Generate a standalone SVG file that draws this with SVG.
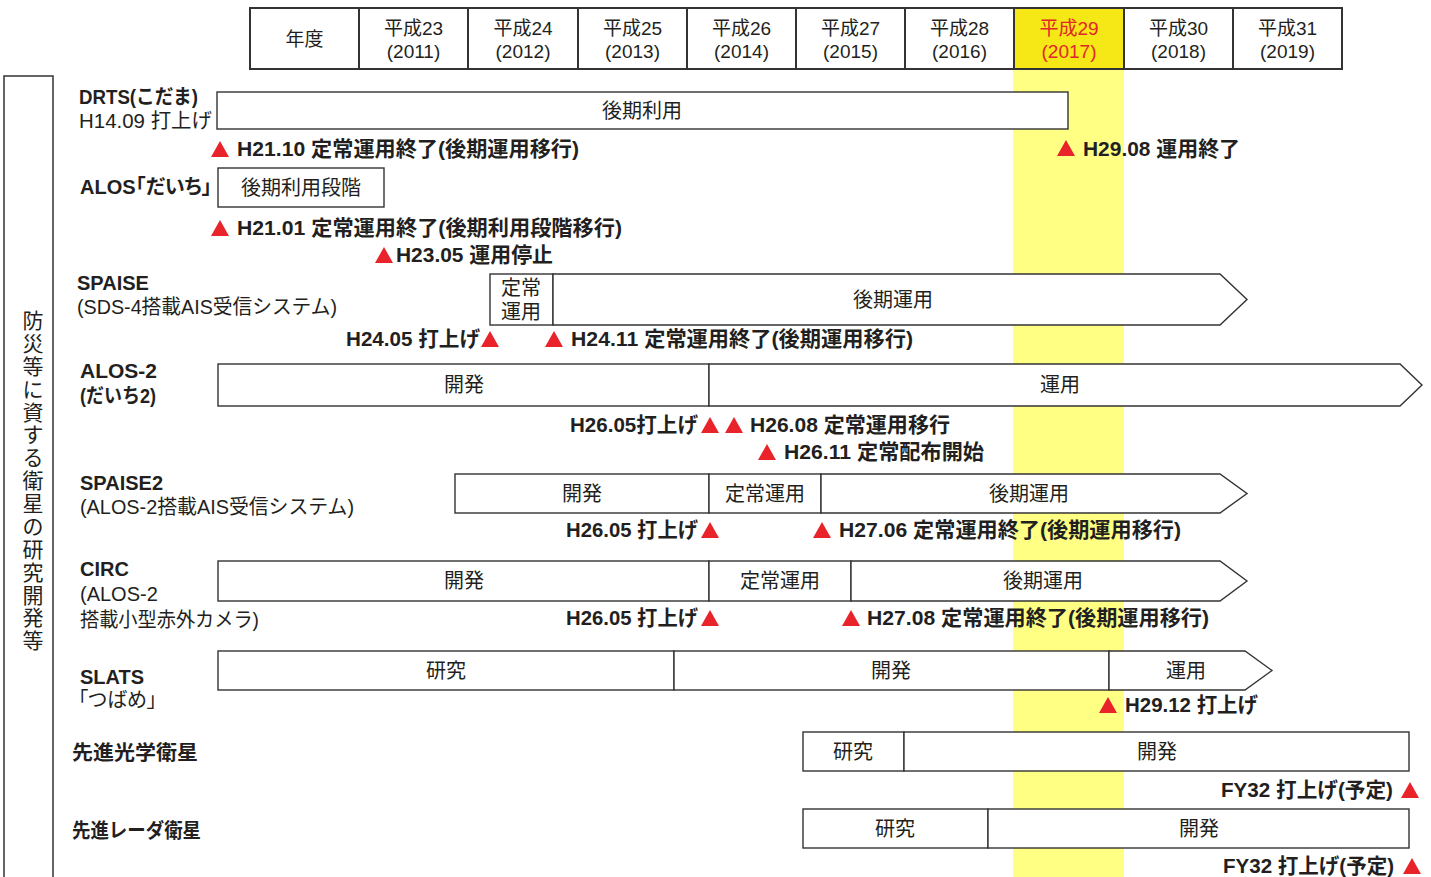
<svg xmlns="http://www.w3.org/2000/svg" xmlns:xlink="http://www.w3.org/1999/xlink" width="1431" height="877" viewBox="0 0 1431 877">
<style>
text{font-family:"Liberation Sans","Noto Sans CJK JP",sans-serif;fill:#231f20}
.h{font-size:19px;text-anchor:middle}
.hr{fill:#e0262b}
.lb{font-size:20px;font-weight:bold}
.ln{font-size:20px}
.pa{font-feature-settings:"palt"}
.bt{font-size:20px;text-anchor:middle}
.ms{font-size:21px;font-weight:bold}
.bar{fill:#fff;stroke:#333;stroke-width:1.4}
.grid{fill:none;stroke:#333;stroke-width:2}
.tri{fill:#e8232a}
.vt{font-size:21px;text-anchor:middle}
</style>
<defs>
<path id="tri" class="tri" d="M0,-8 L9,8 L-9,8 Z"/>
</defs>
<rect width="1431" height="877" fill="#fff"/>
<!-- highlight band -->
<rect id="band2017" x="1013" y="70" width="111" height="807" fill="#ffff84"/>

<!-- header table -->
<g id="header">
<rect x="1014" y="8" width="110" height="61" fill="#f6e716"/>
<rect class="grid" x="250" y="8" width="1092" height="61"/>
<path class="grid" d="M359,8V69M468,8V69M578,8V69M687,8V69M796,8V69M905,8V69M1014,8V69M1124,8V69M1233,8V69"/>
<text class="h" x="304.5" y="46">年度</text>
<text class="h" x="413.5" y="35">平成23</text><text class="h" x="413.5" y="58">(2011)</text>
<text class="h" x="523" y="35">平成24</text><text class="h" x="523" y="58">(2012)</text>
<text class="h" x="632.5" y="35">平成25</text><text class="h" x="632.5" y="58">(2013)</text>
<text class="h" x="741.5" y="35">平成26</text><text class="h" x="741.5" y="58">(2014)</text>
<text class="h" x="850.5" y="35">平成27</text><text class="h" x="850.5" y="58">(2015)</text>
<text class="h" x="959.5" y="35">平成28</text><text class="h" x="959.5" y="58">(2016)</text>
<text class="h hr" x="1069" y="35">平成29</text><text class="h hr" x="1069" y="58">(2017)</text>
<text class="h" x="1178.5" y="35">平成30</text><text class="h" x="1178.5" y="58">(2018)</text>
<text class="h" x="1287.5" y="35">平成31</text><text class="h" x="1287.5" y="58">(2019)</text>
</g>

<!-- left category box -->
<g id="category">
<rect x="4" y="76" width="49" height="820" fill="none" stroke="#333" stroke-width="1.5"/>
<text class="vt" x="33 33 33 33 33 33 33 33 33 33 33 33 33 33 33" y="328 351 374 397 420 442 465 488 511 534 557 580 603 625 648">防災等に資する衛星の研究開発等</text>
</g>

<!-- DRTS -->
<g id="drts">
<text class="lb" x="79" y="104" textLength="119" lengthAdjust="spacingAndGlyphs">DRTS(こだま)</text>
<text class="ln" x="79" y="128" textLength="133" lengthAdjust="spacingAndGlyphs">H14.09 打上げ</text>
<rect class="bar" x="217" y="92" width="851" height="37"/>
<text class="bt" x="642" y="118">後期利用</text>
<use xlink:href="#tri" x="220" y="149"/>
<text class="ms" x="237" y="156" textLength="342" lengthAdjust="spacingAndGlyphs">H21.10 定常運用終了(後期運用移行)</text>
<use xlink:href="#tri" x="1066" y="148"/>
<text class="ms" x="1083" y="156" textLength="157" lengthAdjust="spacingAndGlyphs">H29.08 運用終了</text>
</g>

<!-- ALOS -->
<g id="alos">
<text class="lb pa" x="80" y="194">ALOS「だいち」</text>
<rect class="bar" x="218" y="168" width="166" height="39"/>
<text class="bt" x="301" y="195">後期利用段階</text>
<use xlink:href="#tri" x="220" y="228"/>
<text class="ms" x="237" y="235" textLength="385" lengthAdjust="spacingAndGlyphs">H21.01 定常運用終了(後期利用段階移行)</text>
<use xlink:href="#tri" x="384" y="255"/>
<text class="ms" x="396" y="262" textLength="157" lengthAdjust="spacingAndGlyphs">H23.05 運用停止</text>
</g>

<!-- SPAISE -->
<g id="spaise">
<text class="lb" x="77" y="290">SPAISE</text>
<text class="ln" x="77" y="314" textLength="260" lengthAdjust="spacingAndGlyphs">(SDS-4搭載AIS受信システム)</text>
<rect class="bar" x="490" y="274" width="63" height="51"/>
<text class="bt" x="521" y="295">定常</text>
<text class="bt" x="521" y="319">運用</text>
<polygon class="bar" points="553,274 1220,274 1247,299.5 1220,325 553,325"/>
<text class="bt" x="893" y="307">後期運用</text>
<text class="ms" x="346" y="346" textLength="134" lengthAdjust="spacingAndGlyphs">H24.05 打上げ</text>
<use xlink:href="#tri" x="490" y="339"/>
<use xlink:href="#tri" x="554" y="339"/>
<text class="ms" x="571" y="346" textLength="342" lengthAdjust="spacingAndGlyphs">H24.11 定常運用終了(後期運用移行)</text>
</g>

<!-- ALOS-2 -->
<g id="alos2">
<text class="lb" x="80" y="378" textLength="77" lengthAdjust="spacingAndGlyphs">ALOS-2</text>
<text class="lb" x="80" y="403" textLength="76" lengthAdjust="spacingAndGlyphs">(だいち2)</text>
<rect class="bar" x="218" y="364" width="491" height="42"/>
<text class="bt" x="464" y="392">開発</text>
<polygon class="bar" points="709,364 1400,364 1422,385 1400,406 709,406"/>
<text class="bt" x="1060" y="392">運用</text>
<text class="ms" x="570" y="432" textLength="128" lengthAdjust="spacingAndGlyphs">H26.05打上げ</text>
<use xlink:href="#tri" x="710" y="425"/>
<use xlink:href="#tri" x="734" y="425"/>
<text class="ms" x="750" y="432" textLength="200" lengthAdjust="spacingAndGlyphs">H26.08 定常運用移行</text>
<use xlink:href="#tri" x="767" y="452"/>
<text class="ms" x="784" y="459" textLength="200" lengthAdjust="spacingAndGlyphs">H26.11 定常配布開始</text>
</g>

<!-- SPAISE2 -->
<g id="spaise2">
<text class="lb" x="80" y="490">SPAISE2</text>
<text class="ln" x="80" y="514" textLength="274" lengthAdjust="spacingAndGlyphs">(ALOS-2搭載AIS受信システム)</text>
<rect class="bar" x="455" y="474" width="254" height="39"/>
<text class="bt" x="582" y="501">開発</text>
<rect class="bar" x="709" y="474" width="112" height="39"/>
<text class="bt" x="765" y="501">定常運用</text>
<polygon class="bar" points="821,474 1220,474 1247,493.5 1220,513 821,513"/>
<text class="bt" x="1029" y="501">後期運用</text>
<text class="ms" x="566" y="537" textLength="132" lengthAdjust="spacingAndGlyphs">H26.05 打上げ</text>
<use xlink:href="#tri" x="710" y="530"/>
<use xlink:href="#tri" x="822" y="530"/>
<text class="ms" x="839" y="537" textLength="342" lengthAdjust="spacingAndGlyphs">H27.06 定常運用終了(後期運用移行)</text>
</g>

<!-- CIRC -->
<g id="circ">
<text class="lb" x="80" y="576">CIRC</text>
<text class="ln" x="80" y="601">(ALOS-2</text>
<text class="ln" x="80" y="627" textLength="179" lengthAdjust="spacingAndGlyphs">搭載小型赤外カメラ)</text>
<rect class="bar" x="218" y="561" width="491" height="40"/>
<text class="bt" x="464" y="588">開発</text>
<rect class="bar" x="709" y="561" width="142" height="40"/>
<text class="bt" x="780" y="588">定常運用</text>
<polygon class="bar" points="851,561 1220,561 1247,581 1220,601 851,601"/>
<text class="bt" x="1043" y="588">後期運用</text>
<text class="ms" x="566" y="625" textLength="132" lengthAdjust="spacingAndGlyphs">H26.05 打上げ</text>
<use xlink:href="#tri" x="710" y="618"/>
<use xlink:href="#tri" x="851" y="618"/>
<text class="ms" x="867" y="625" textLength="342" lengthAdjust="spacingAndGlyphs">H27.08 定常運用終了(後期運用移行)</text>
</g>

<!-- SLATS -->
<g id="slats">
<text class="lb" x="80" y="684">SLATS</text>
<text class="ln pa" x="78" y="707">「つばめ」</text>
<rect class="bar" x="218" y="651" width="456" height="39"/>
<text class="bt" x="446" y="678">研究</text>
<rect class="bar" x="674" y="651" width="435" height="39"/>
<text class="bt" x="891" y="678">開発</text>
<polygon class="bar" points="1109,651 1245,651 1272,670.5 1245,690 1109,690"/>
<text class="bt" x="1186" y="678">運用</text>
<use xlink:href="#tri" x="1108" y="705"/>
<text class="ms" x="1125" y="712" textLength="133" lengthAdjust="spacingAndGlyphs">H29.12 打上げ</text>
</g>

<!-- 先進光学衛星 -->
<g id="optical">
<text class="lb" x="72" y="760" textLength="126" lengthAdjust="spacingAndGlyphs">先進光学衛星</text>
<rect class="bar" x="803" y="732" width="101" height="39"/>
<text class="bt" x="853" y="759">研究</text>
<rect class="bar" x="904" y="732" width="505" height="39"/>
<text class="bt" x="1157" y="759">開発</text>
<text class="ms" x="1221" y="797" textLength="172" lengthAdjust="spacingAndGlyphs">FY32 打上げ(予定)</text>
<use xlink:href="#tri" x="1410" y="790"/>
</g>

<!-- 先進レーダ衛星 -->
<g id="radar">
<text class="lb" x="72" y="838" textLength="129" lengthAdjust="spacingAndGlyphs">先進レーダ衛星</text>
<rect class="bar" x="803" y="809" width="185" height="39"/>
<text class="bt" x="895" y="836">研究</text>
<rect class="bar" x="988" y="809" width="421" height="39"/>
<text class="bt" x="1199" y="836">開発</text>
<text class="ms" x="1223" y="873" textLength="171" lengthAdjust="spacingAndGlyphs">FY32 打上げ(予定)</text>
<use xlink:href="#tri" x="1412" y="866"/>
</g>
</svg>
